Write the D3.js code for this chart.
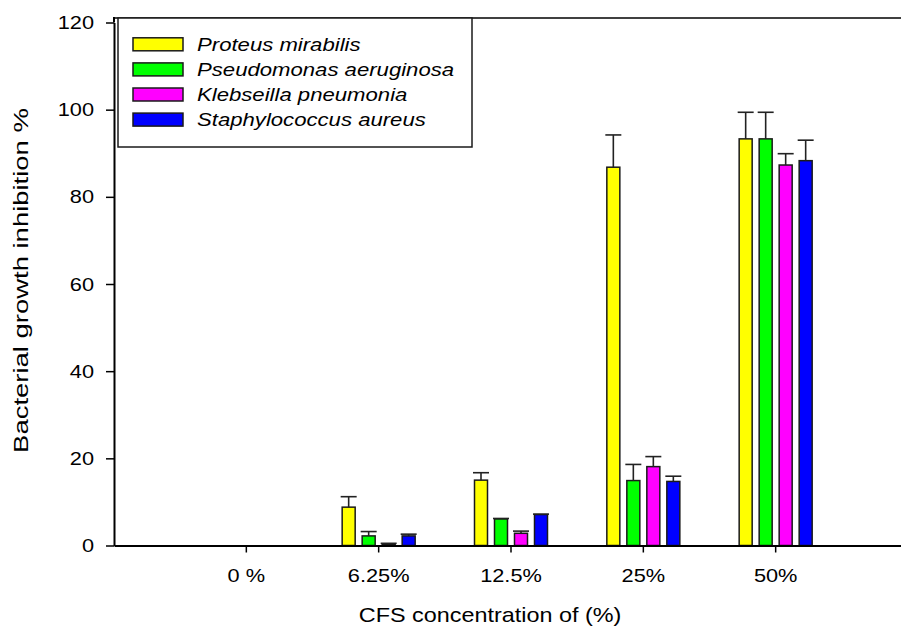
<!DOCTYPE html>
<html>
<head>
<meta charset="utf-8">
<script src="https://cdn.jsdelivr.net/npm/d3@7"></script>
<style>
  html, body { margin: 0; padding: 0; background: #fff; }
  text { font-family: "Liberation Sans", Arial, sans-serif; fill: #000; }
</style>
</head>
<body>
<svg id="chart" width="901" height="629"></svg>
<script>
const categories = ["0 %", "6.25%", "12.5%", "25%", "50%"];
const seriesNames = ["Proteus mirabilis", "Pseudomonas aeruginosa", "Klebseilla pneumonia", "Staphylococcus aureus"];
const seriesColors = ["#ffff00", "#00ff00", "#ff00ff", "#0000ff"];
const proteus      = [0, 8.8, 15.0, 86.8, 93.3];
const pseudomonas  = [0, 2.2, 6.1, 14.9, 93.3];
const klebsiella   = [0, 0.3, 2.8, 18.1, 87.3];
const staph        = [0, 2.2, 7.1, 14.7, 88.3];
const proteusErr     = [0, 2.4, 1.7, 7.4, 6.1];
const pseudomonasErr = [0, 1.0, 0.1, 3.7, 6.1];
const klebsiellaErr  = [0, 0.2, 0.5, 2.3, 2.6];
const staphErr       = [0, 0.4, 0.1, 1.2, 4.7];
const yTicks = [0, 20, 40, 60, 80, 100, 120];
const xTitle = "CFS concentration of (%)";
const yTitle = "Bacterial growth inhibition %";

const values = [proteus, pseudomonas, klebsiella, staph];
const errors = [proteusErr, pseudomonasErr, klebsiellaErr, staphErr];

const svg = d3.select("#chart");
const plotLeft = 114, plotRight = 908, plotTop = 18;

const x = d3.scaleBand().domain(categories).range([plotLeft, plotRight]).paddingInner(0).paddingOuter(0.5);
const xs = d3.scaleBand().domain(seriesNames).range([-40, 40]).paddingInner(0.35).paddingOuter(0.175);
const y = d3.scaleLinear().domain([0, 120]).range([545.5, 22.5]);

// bars
const data = [];
categories.forEach((c, i) => {
  seriesNames.forEach((s, j) => {
    data.push({ c, s, j, v: values[j][i], e: errors[j][i] });
  });
});

const gBars = svg.append("g");
gBars.selectAll("rect").data(data.filter(d => d.v > 0)).enter().append("rect")
  .attr("x", d => x(d.c) + x.bandwidth() / 2 + xs(d.s))
  .attr("width", xs.bandwidth())
  .attr("y", d => y(d.v))
  .attr("height", d => y(0) - y(d.v))
  .attr("fill", d => seriesColors[d.j])
  .attr("stroke", "#1a1a1a")
  .attr("stroke-width", 1.5);

// error bars
const gErr = svg.append("g").attr("stroke", "#222").attr("stroke-width", 1.6);
const ed = data.filter(d => d.v > 0);
const cx = d => x(d.c) + x.bandwidth() / 2 + xs(d.s) + xs.bandwidth() / 2;
gErr.selectAll("line.v").data(ed).enter().append("line").attr("class", "v")
  .attr("x1", cx).attr("x2", cx)
  .attr("y1", d => y(d.v))
  .attr("y2", d => y(d.v + d.e));
gErr.selectAll("line.c").data(ed).enter().append("line").attr("class", "c")
  .attr("x1", d => cx(d) - 8)
  .attr("x2", d => cx(d) + 8)
  .attr("y1", d => y(d.v + d.e))
  .attr("y2", d => y(d.v + d.e));

// x axis
const xAxis = svg.append("g").attr("transform", `translate(0,${y(0)})`)
  .call(d3.axisBottom(x).tickSizeInner(7).tickSizeOuter(0).tickPadding(0).tickFormat(""));
xAxis.select(".domain").attr("stroke", "#000").attr("stroke-width", 2);
xAxis.selectAll(".tick line").attr("stroke", "#000").attr("stroke-width", 1.5);

// x tick labels (horizontally stretched like the reference)
const sx = 1.17;
svg.append("g").selectAll("text").data(categories).enter().append("text")
  .attr("transform", d => `translate(${x(d) + x.bandwidth() / 2},581.5) scale(${sx},1)`)
  .attr("text-anchor", "middle")
  .style("font-size", "18.6px")
  .text(d => d);

// y axis
const yAxis = svg.append("g").attr("transform", `translate(${plotLeft},0)`)
  .call(d3.axisLeft(y).tickValues(yTicks).tickSizeInner(8).tickSizeOuter(0).tickFormat(""));
yAxis.select(".domain").attr("stroke", "#000").attr("stroke-width", 2);
yAxis.selectAll(".tick line").attr("stroke", "#000").attr("stroke-width", 1.5);
svg.append("line").attr("x1", plotLeft).attr("x2", plotLeft).attr("y1", y(120)).attr("y2", plotTop - 1)
  .attr("stroke", "#000").attr("stroke-width", 2);
// top frame line
svg.append("line").attr("x1", plotLeft - 1).attr("x2", 901).attr("y1", plotTop).attr("y2", plotTop)
  .attr("stroke", "#000").attr("stroke-width", 1.5);

svg.append("g").selectAll("text").data(yTicks).enter().append("text")
  .attr("transform", d => `translate(94,${y(d) + 6.5}) scale(${sx},1)`)
  .attr("text-anchor", "end")
  .style("font-size", "18.6px")
  .text(d => d);

// axis titles
svg.append("text")
  .attr("transform", `translate(490,622) scale(${sx},1)`)
  .attr("text-anchor", "middle")
  .style("font-size", "20px")
  .text(xTitle);
svg.append("text")
  .attr("transform", `translate(27.5,280.5) rotate(-90) scale(1.34,1)`)
  .attr("text-anchor", "middle")
  .style("font-size", "20.5px")
  .text(yTitle);

// legend
const lg = svg.append("g");
lg.append("rect").attr("x", 118).attr("y", plotTop).attr("width", 354).attr("height", 129)
  .attr("fill", "#fff").attr("stroke", "#1a1a1a").attr("stroke-width", 1.5);
const rows = lg.selectAll("g.row").data(seriesNames).enter().append("g")
  .attr("transform", (d, i) => `translate(0,${44.3 + i * 25.1})`);
rows.append("rect").attr("x", 133).attr("y", -6.5).attr("width", 50).attr("height", 13)
  .attr("fill", (d, i) => seriesColors[i]).attr("stroke", "#1a1a1a").attr("stroke-width", 1.5);
rows.append("text")
  .attr("transform", `translate(197,6.2) scale(1.19,1)`)
  .style("font-size", "18.6px").style("font-style", "italic")
  .text(d => d);
</script>
</body>
</html>
